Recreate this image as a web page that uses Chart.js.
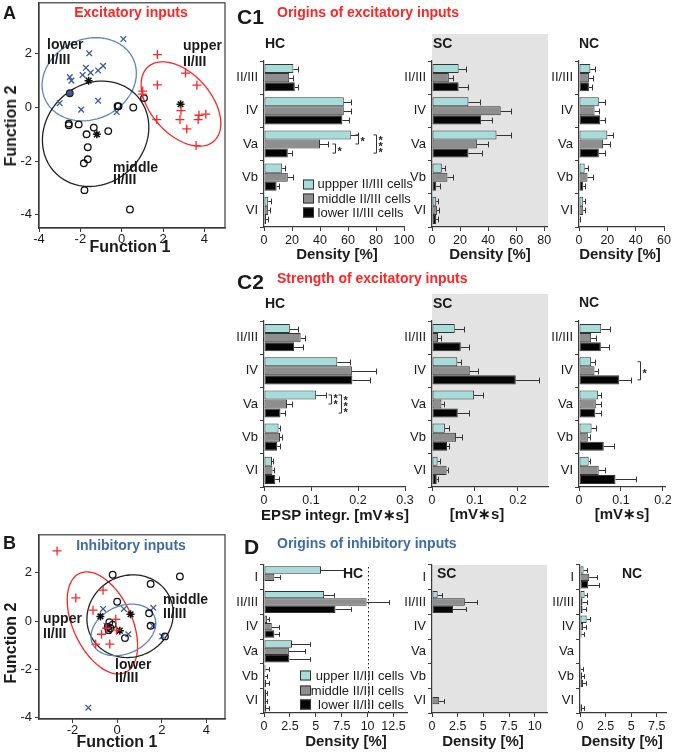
<!DOCTYPE html>
<html>
<head>
<meta charset="utf-8">
<script src="https://cdn.jsdelivr.net/npm/chart.js@4.4.1/dist/chart.umd.min.js"></script>
<style>
  body { margin: 0; background: #fff; }
  #fig { position: relative; width: 685px; height: 754px; overflow: hidden; font-family: "Liberation Sans", Arial, sans-serif; color: #1a1a1a; }
  #fig canvas { position: absolute; }
  .t { position: absolute; white-space: nowrap; line-height: 1; }
  .gray { position: absolute; background: #e3e3e3; }
  .sw { display: inline-block; width: 9px; height: 8px; border: 1px solid #333; vertical-align: middle; }
</style>
</head>
<body>
<div id="fig"></div>
<script>
// ---- categories ----
const layersExc = ['II/III', 'IV', 'Va', 'Vb', 'VI'];
const layersInh = ['I', 'II/III', 'IV', 'Va', 'Vb', 'VI'];

// ---- C1: origins of excitatory inputs, density [%] (mean, sem) ----
const c1HcUpper = [21, 57, 62, 13, 3];     const c1HcUpperSem = [3, 5, 5, 2, 2];
const c1HcMiddle = [18, 57, 40, 17, 3];    const c1HcMiddleSem = [3, 5, 6, 4, 1];
const c1HcLower = [22, 56, 17, 9, 1.5];    const c1HcLowerSem = [2, 5, 3, 2, 1.5];
const c1ScUpper = [19, 26, 46, 7, 3];      const c1ScUpperSem = [5, 8, 10, 2, 1];
const c1ScMiddle = [12, 49, 32, 11, 3.5];  const c1ScMiddleSem = [3, 7, 8, 4, 1.5];
const c1ScLower = [19, 35, 26, 3, 3];      const c1ScLowerSem = [7, 8, 10, 3, 1];
const c1NcUpper = [8, 14, 20, 4, 3];       const c1NcUpperSem = [3, 4, 4, 2, 1.5];
const c1NcMiddle = [7, 11, 17, 6, 3];      const c1NcMiddleSem = [3, 3, 5, 4, 1];
const c1NcLower = [7, 15, 14, 3, 0.5];     const c1NcLowerSem = [2, 3, 4, 1, 0.5];

// ---- C2: strength of excitatory inputs, EPSP integral [mV*s] ----
const c2HcUpper = [0.055, 0.156, 0.111, 0.031, 0.017];  const c2HcUpperSem = [0.018, 0.028, 0.02, 0.003, 0.002];
const c2HcMiddle = [0.078, 0.187, 0.049, 0.034, 0.018]; const c2HcMiddleSem = [0.01, 0.052, 0.01, 0.005, 0.003];
const c2HcLower = [0.064, 0.188, 0.035, 0.028, 0.024];  const c2HcLowerSem = [0.019, 0.038, 0.01, 0.006, 0.007];
const c2ScUpper = [0.053, 0.059, 0.098, 0.03, 0.013];   const c2ScUpperSem = [0.022, 0.009, 0.021, 0.009, 0.005];
const c2ScMiddle = [0.014, 0.088, 0.022, 0.056, 0.034]; const c2ScMiddleSem = [0.007, 0.02, 0.006, 0.013, 0.004];
const c2ScLower = [0.067, 0.195, 0.06, 0.035, 0.011];   const c2ScLowerSem = [0.019, 0.054, 0.026, 0.004, 0.003];
const c2NcUpper = [0.053, 0.029, 0.045, 0.03, 0.023];   const c2NcUpperSem = [0.02, 0.008, 0.007, 0.01, 0.003];
const c2NcMiddle = [0.029, 0.037, 0.04, 0.021, 0.047];  const c2NcMiddleSem = [0.012, 0.008, 0.012, 0.005, 0.015];
const c2NcLower = [0.052, 0.096, 0.039, 0.059, 0.087];  const c2NcLowerSem = [0.019, 0.029, 0.013, 0.024, 0.049];

// ---- D: origins of inhibitory inputs, density [%] ----
const dHcUpper = [5.5, 5.8, 0.3, 2.7, 0.15, 0.2];  const dHcUpperSem = [2.3, 1.0, 0.2, 1.7, 0.3, 0.1];
const dHcMiddle = [1.0, 9.9, 0.75, 2.4, 0.1, 0.2]; const dHcMiddleSem = [0.5, 2.2, 0.65, 1.6, 0.2, 0.1];
const dHcLower = [0, 6.9, 1.0, 2.45, 0.2, 0.2];    const dHcLowerSem = [0, 1.5, 0.4, 1.95, 0.25, 0.25];
const dScUpper = [0, 0.55, 0, 0, 0, 0];            const dScUpperSem = [0, 0.45, 0, 0, 0, 0];
const dScMiddle = [0, 3.2, 0, 0, 0, 0.7];          const dScMiddleSem = [0, 1.2, 0, 0, 0, 0.5];
const dScLower = [0, 2.05, 0, 0, 0, 0];            const dScLowerSem = [0, 1.25, 0, 0, 0, 0];
const dNcUpper = [0.35, 0.45, 0.65, 0, 0.1, 0];    const dNcUpperSem = [0.3, 0.25, 0.35, 0, 0.2, 0];
const dNcMiddle = [0.9, 0.25, 0.3, 0, 0.2, 0.05];  const dNcMiddleSem = [0.8, 0.4, 0.25, 0, 0.15, 0];
const dNcLower = [0.8, 0.25, 0.15, 0, 0.3, 0.2];   const dNcLowerSem = [1.1, 0.35, 0.25, 0, 0.25, 0.2];

// significance brackets: [category, series a, series b, x value, stars]
const c1HcSig = [[2, 0, 1, 67, '*'], [2, 1, 2, 51, '*'], [2, 0, 2, 80, '***']];
const c2HcSig = [[2, 0, 1, 0.142, '**'], [2, 0, 2, 0.164, '***']];
const c2NcSig = [[1, 0, 2, 0.145, '*']];

// axis ticks / ranges
const ticksC1Hc = [0, 20, 40, 60, 80, 100]; const ticksC1Sc = [0, 20, 40, 60, 80]; const ticksC1Nc = [0, 20, 40, 60];
const ticksC2Hc = [0, 0.1, 0.2, 0.3];       const ticksC2Sc = [0, 0.1, 0.2];        const ticksC2Nc = [0, 0.1, 0.2];
const ticksDHc = [0, 2.5, 5, 7.5, 10, 12.5]; const ticksDSc = [0, 2.5, 5, 7.5, 10]; const ticksDNc = [0, 2.5, 5, 7.5];

// ---- A: discriminant scores, excitatory inputs ----
const aUpperX = [1.73, 3.09, 1.73, 3.64, 1.02, 1.0, 2.87, 2.82, 1.7, 3.74, 3.7, 4.07, 3.15, 3.6];
const aUpperY = [1.97, 1.28, 0.84, 0.83, 0.61, 0.5, -0.12, -0.45, -0.45, -0.29, -0.45, -0.25, -0.8, -1.42];
const aMiddleX = [-0.2, -0.15, 0.56, 1.08, -2.56, -2.56, -2.08, -1.35, -1.7, -0.65, -1.64, -1.64, -1.83, -1.8, 0.4];
const aMiddleY = [0.05, 0.05, 0.0, 0.35, -0.6, -0.66, -0.63, -0.75, -1.0, -0.88, -1.48, -1.93, -2.08, -3.08, -3.8];
const aLowerX = [0.08, -1.57, -1.73, -1.5, -1.89, -2.51, -2.43, -1.14, -0.9, -1.14, -3.0, -1.96, -0.24];
const aLowerY = [2.55, 2.02, 1.48, 1.3, 1.21, 1.13, 1.0, 1.38, 1.55, 0.25, 0.16, -0.08, -0.17];
const aMixedX = [-2.51];
const aMixedY = [0.53];
const aCentX = [2.85, -1.6, -1.2];
const aCentY = [0.12, 1.0, -1.0];
// ellipses: [cx, cy, semi-axis a, semi-axis b, angle deg]
const aEllUpper = [2.87, 0.13, 2.15, 1.25, -33];
const aEllMiddle = [-1.26, -0.98, 2.6, 1.93, 12];
const aEllLower = [-1.57, 1.05, 2.3, 1.52, 10];
const aTicksX = [-4, -2, 0, 2, 4];
const aTicksY = [-4, -2, 0, 2];

// ---- B: discriminant scores, inhibitory inputs ----
const bUpperX = [-2.69, -1.85, -0.63, -1.08, -0.06, -0.7, -0.03, -0.33, -0.96, -0.48];
const bUpperY = [2.91, 0.96, 1.28, 0.45, 0.07, -0.55, -0.38, -0.96, -0.96, -0.3];
const bMiddleX = [-0.2, 1.5, 2.81, 0.0, 1.43, 1.5, 2.14, 0.35, -0.35, -0.42, -0.3, -0.38, -0.2];
const bMiddleY = [1.92, 1.54, 1.85, 0.8, 0.32, -0.2, -0.64, -0.71, -0.05, -0.25, -0.3, -0.38, -0.15];
const bLowerX = [-1.29, -0.63, 0.3, 1.62, 1.6, 2.02, 0.5, -0.48, -0.4];
const bLowerY = [-3.6, 0.5, 0.5, 0.55, -0.2, -0.64, -0.55, -0.2, -0.4];
const bCentX = [-0.75, 0.6, 0.12];
const bCentY = [0.19, 0.28, -0.4];
const bEllUpper = [-0.66, -0.08, 2.3, 1.3, -62];
const bEllMiddle = [0.58, 0.2, 1.95, 1.7, 15];
const bEllLower = [0.28, -0.37, 1.5, 1.0, 20];
const bTicksX = [-2, 0, 2, 4];
const bTicksY = [-4, -2, 0, 2];

// ---- styles ----
Chart.defaults.font.family = '"Liberation Sans", Arial, sans-serif';
Chart.defaults.color = '#1a1a1a';
const AXIS = '#3a3a3a';
const FILLS = ['#a6dcd9', '#8e8e8e', '#050505'];
const EDGE = '#333';
const RED = '#ff2525';
const BLUE = '#3b5ba6';
const fig = document.getElementById('fig');

function addText(html, x, y, css, anchor) {
  const d = document.createElement('div');
  d.className = 't';
  d.innerHTML = html;
  d.style.cssText += css || '';
  d.style.left = x + 'px';
  d.style.top = y + 'px';
  const tr = { l: 'translate(0,-50%)', c: 'translate(-50%,-50%)', r: 'translate(-100%,-50%)', v: 'translate(-50%,-50%) rotate(-90deg)' };
  d.style.transform = tr[anchor || 'l'];
  fig.appendChild(d);
  return d;
}

function addGray(x, y, w, h) {
  const d = document.createElement('div');
  d.className = 'gray';
  Object.assign(d.style, { left: x + 'px', top: y + 'px', width: w + 'px', height: h + 'px' });
  fig.appendChild(d);
}

function addCanvas(x, y, w, h) {
  const cv = document.createElement('canvas');
  cv.width = w; cv.height = h;
  cv.style.left = x + 'px'; cv.style.top = y + 'px';
  fig.appendChild(cv);
  return cv;
}

// error bars (mean + sem) on horizontal bars
const errorBars = {
  id: 'errorBars',
  afterDatasetsDraw(chart) {
    const ctx = chart.ctx, xs = chart.scales.x;
    ctx.save();
    ctx.strokeStyle = '#333';
    ctx.lineWidth = 1;
    chart.data.datasets.forEach((ds, i) => {
      chart.getDatasetMeta(i).data.forEach((bar, j) => {
        const s = ds.sem[j];
        if (!s) return;
        const x1 = Math.round(xs.getPixelForValue(ds.data[j] + s)) + 0.5;
        const y = Math.round(bar.y) + 0.5, half = bar.height * 0.32;
        ctx.beginPath();
        ctx.moveTo(bar.x, y); ctx.lineTo(x1, y);
        ctx.moveTo(x1, y - half); ctx.lineTo(x1, y + half);
        ctx.stroke();
      });
    });
    ctx.restore();
  }
};

function sigPlugin(marks) {
  return {
    id: 'sig',
    afterDatasetsDraw(chart) {
      const ctx = chart.ctx, xs = chart.scales.x;
      ctx.save();
      ctx.strokeStyle = '#333'; ctx.fillStyle = '#222'; ctx.lineWidth = 1;
      ctx.font = 'bold 11px "Liberation Sans", Arial, sans-serif';
      ctx.textAlign = 'left'; ctx.textBaseline = 'middle';
      marks.forEach(([cat, a, b, xv, label]) => {
        const ya = chart.getDatasetMeta(a).data[cat].y;
        const yb = chart.getDatasetMeta(b).data[cat].y;
        const px = Math.round(xs.getPixelForValue(xv)) + 0.5;
        ctx.beginPath();
        ctx.moveTo(px - 3, ya); ctx.lineTo(px, ya); ctx.lineTo(px, yb); ctx.lineTo(px - 3, yb);
        ctx.stroke();
        const mid = (ya + yb) / 2, n = label.length;
        for (let k = 0; k < n; k++) ctx.fillText('*', px + 2, mid + (k - (n - 1) / 2) * 6 + 3);
      });
      ctx.restore();
    }
  };
}

function refLinePlugin(xv) {
  return {
    id: 'refLine',
    afterDatasetsDraw(chart) {
      const ctx = chart.ctx, a = chart.chartArea;
      const px = Math.round(chart.scales.x.getPixelForValue(xv)) + 0.5;
      ctx.save();
      ctx.strokeStyle = '#222'; ctx.lineWidth = 1; ctx.setLineDash([1.5, 2.5]);
      ctx.beginPath(); ctx.moveTo(px, a.top + 2); ctx.lineTo(px, a.bottom); ctx.stroke();
      ctx.restore();
    }
  };
}

const PAD_L = 46, PAD_R = 16, PAD_T = 10, PAD_B = 22;

function barChart(x, y, w, h, cats, series, xMax, xTicks, extra, catPct) {
  const cv = addCanvas(x - PAD_L, y - PAD_T, w + PAD_L + PAD_R, h + PAD_T + PAD_B);
  new Chart(cv, {
    type: 'bar',
    data: {
      labels: cats,
      datasets: series.map(([vals, sem], i) => ({
        data: vals, sem: sem,
        backgroundColor: FILLS[i], borderColor: EDGE, borderWidth: 1, borderSkipped: false,
        categoryPercentage: catPct, barPercentage: 1
      }))
    },
    options: {
      indexAxis: 'y', responsive: false, animation: false, events: [],
      layout: { padding: { top: PAD_T, right: PAD_R, left: 0, bottom: 0 } },
      plugins: { legend: { display: false }, tooltip: { enabled: false } },
      scales: {
        x: {
          min: 0, max: xMax,
          afterBuildTicks: s => { s.ticks = xTicks.map(v => ({ value: v })); },
          afterFit: s => { s.height = PAD_B; },
          grid: { display: true, drawOnChartArea: false, tickLength: 4, color: AXIS },
          border: { color: AXIS, width: 1.2 },
          ticks: { font: { size: 12.5 }, color: '#1a1a1a', padding: 2, maxRotation: 0, callback: v => String(v) }
        },
        y: {
          afterFit: s => { s.width = PAD_L; },
          grid: { display: true, offset: true, drawOnChartArea: false, tickLength: 4, color: AXIS },
          border: { color: AXIS, width: 1.2 },
          ticks: { font: { size: 13 }, color: '#1a1a1a', padding: 2, autoSkip: false }
        }
      }
    },
    plugins: [errorBars].concat(extra || [])
  });
}

function ellipsePlugin(list) {
  return {
    id: 'ellipses',
    beforeDatasetsDraw(chart) {
      const ctx = chart.ctx, xs = chart.scales.x, ys = chart.scales.y;
      ctx.save();
      ctx.lineWidth = 1.3;
      list.forEach(([e, color]) => {
        const [cx, cy, a, b, deg] = e, r = deg * Math.PI / 180;
        ctx.strokeStyle = color;
        ctx.beginPath();
        for (let k = 0; k <= 120; k++) {
          const t = k / 120 * 2 * Math.PI;
          const dx = a * Math.cos(t) * Math.cos(r) - b * Math.sin(t) * Math.sin(r);
          const dy = a * Math.cos(t) * Math.sin(r) + b * Math.sin(t) * Math.cos(r);
          const px = xs.getPixelForValue(cx + dx), py = ys.getPixelForValue(cy + dy);
          if (k === 0) ctx.moveTo(px, py); else ctx.lineTo(px, py);
        }
        ctx.stroke();
      });
      ctx.restore();
    }
  };
}

const framePlugin = {
  id: 'frame',
  afterDraw(chart) {
    const a = chart.chartArea, ctx = chart.ctx;
    ctx.save();
    ctx.strokeStyle = AXIS; ctx.lineWidth = 1.2;
    ctx.strokeRect(a.left, a.top, a.right - a.left, a.bottom - a.top);
    ctx.restore();
  }
};

const pts = (xs, ys) => xs.map((v, i) => ({ x: v, y: ys[i] }));

function scatterChart(x, y, w, h, xr, yr, xt, yt, sets, ells) {
  const pl = 38, pr = 6, pt = 10, pb = 20;
  const cv = addCanvas(x - pl, y - pt, w + pl + pr, h + pt + pb);
  const style = {
    upper: { pointStyle: 'cross', pointRadius: 4.5, borderColor: RED, borderWidth: 1.3 },
    middle: { pointStyle: 'circle', pointRadius: 3.3, borderColor: '#111', backgroundColor: 'rgba(255,255,255,0)', borderWidth: 1.3 },
    lower: { pointStyle: 'crossRot', pointRadius: 4, borderColor: BLUE, borderWidth: 1.3 },
    mixed: { pointStyle: 'circle', pointRadius: 3.3, borderColor: '#222', backgroundColor: BLUE, borderWidth: 1.2 },
    cent: { pointStyle: 'star', pointRadius: 4, borderColor: '#111', borderWidth: 1.5 }
  };
  new Chart(cv, {
    type: 'scatter',
    data: { datasets: sets.map(([kind, data]) => Object.assign({ data: data }, style[kind])) },
    options: {
      responsive: false, animation: false, events: [],
      layout: { padding: { top: pt, right: pr, left: 0, bottom: 0 } },
      plugins: { legend: { display: false }, tooltip: { enabled: false } },
      scales: {
        x: {
          type: 'linear', min: xr[0], max: xr[1],
          afterBuildTicks: s => { s.ticks = xt.map(v => ({ value: v })); },
          afterFit: s => { s.height = pb; },
          grid: { display: true, drawOnChartArea: false, tickLength: 4, color: AXIS },
          border: { color: AXIS, width: 1.2 },
          ticks: { font: { size: 13 }, padding: 0, maxRotation: 0, callback: v => String(v) }
        },
        y: {
          type: 'linear', min: yr[0], max: yr[1],
          afterBuildTicks: s => { s.ticks = yt.map(v => ({ value: v })); },
          afterFit: s => { s.width = pl; },
          grid: { display: true, drawOnChartArea: false, tickLength: 4, color: AXIS },
          border: { color: AXIS, width: 1.2 },
          ticks: { font: { size: 13 }, padding: 3, callback: v => String(v) }
        }
      }
    },
    plugins: [ellipsePlugin(ells), framePlugin]
  });
}

// ---- panel A ----
scatterChart(39, 2, 186, 226, [-4, 5], [-4.49, 3.9], aTicksX, aTicksY, [
  ['upper', pts(aUpperX, aUpperY)],
  ['middle', pts(aMiddleX, aMiddleY)],
  ['lower', pts(aLowerX, aLowerY)],
  ['mixed', pts(aMixedX, aMixedY)],
  ['cent', pts(aCentX, aCentY)]
], [[aEllLower, '#5b86bd'], [aEllMiddle, '#222'], [aEllUpper, RED]]);
addText('A', 3, 13, 'font-weight:bold;font-size:18px;');
addText('Excitatory inputs', 131, 12, 'font-weight:bold;font-size:14px;color:' + RED + ';', 'c');
addText('lower', 47, 44, 'font-weight:bold;font-size:14px;');
addText('II/III', 47, 59, 'font-weight:bold;font-size:14px;');
addText('upper', 183, 45, 'font-weight:bold;font-size:14px;');
addText('II/III', 183, 61, 'font-weight:bold;font-size:14px;');
addText('middle', 113, 167, 'font-weight:bold;font-size:14px;');
addText('II/III', 113, 179, 'font-weight:bold;font-size:14px;');
addText('Function 2', 11, 126, 'font-weight:bold;font-size:16px;', 'v');
addText('Function 1', 130, 247, 'font-weight:bold;font-size:16px;', 'c');

// ---- panel B ----
scatterChart(39, 534, 186, 185, [-3.5, 4.83], [-4.07, 3.58], bTicksX, bTicksY, [
  ['upper', pts(bUpperX, bUpperY)],
  ['middle', pts(bMiddleX, bMiddleY)],
  ['lower', pts(bLowerX, bLowerY)],
  ['cent', pts(bCentX, bCentY)]
], [[bEllUpper, RED], [bEllMiddle, '#222'], [bEllLower, '#5b86bd']]);
addText('B', 3, 543, 'font-weight:bold;font-size:18px;');
addText('Inhibitory inputs', 131, 545, 'font-weight:bold;font-size:14px;color:#3d6ca8;', 'c');
addText('upper', 43, 618, 'font-weight:bold;font-size:14px;');
addText('II/III', 43, 633, 'font-weight:bold;font-size:14px;');
addText('middle', 163, 599, 'font-weight:bold;font-size:14px;');
addText('II/III', 163, 613, 'font-weight:bold;font-size:14px;');
addText('lower', 115, 664, 'font-weight:bold;font-size:14px;');
addText('II/III', 115, 677, 'font-weight:bold;font-size:14px;');
addText('Function 2', 11, 643, 'font-weight:bold;font-size:16px;', 'v');
addText('Function 1', 117, 742, 'font-weight:bold;font-size:16px;', 'c');

// ---- panel C1 ----
addGray(432, 34, 116, 193);
barChart(264, 61, 140, 166, layersExc, [[c1HcUpper, c1HcUpperSem], [c1HcMiddle, c1HcMiddleSem], [c1HcLower, c1HcLowerSem]], 100, ticksC1Hc, [sigPlugin(c1HcSig)], 0.82);
barChart(432, 61, 115, 166, layersExc, [[c1ScUpper, c1ScUpperSem], [c1ScMiddle, c1ScMiddleSem], [c1ScLower, c1ScLowerSem]], 82, ticksC1Sc, [], 0.82);
barChart(579, 61, 85, 166, layersExc, [[c1NcUpper, c1NcUpperSem], [c1NcMiddle, c1NcMiddleSem], [c1NcLower, c1NcLowerSem]], 60, ticksC1Nc, [], 0.82);
addText('C1', 237, 16, 'font-weight:bold;font-size:21px;');
addText('Origins of excitatory inputs', 277, 12, 'font-weight:bold;font-size:14px;color:' + RED + ';');
addText('HC', 265, 43, 'font-weight:bold;font-size:14px;');
addText('SC', 433, 43, 'font-weight:bold;font-size:14px;');
addText('NC', 579, 43, 'font-weight:bold;font-size:14px;');
['Density [%]', 'Density [%]', 'Density [%]'].forEach((s, i) => addText(s, [337, 490, 620][i], 253, 'font-weight:bold;font-size:15px;', 'c'));
['uppper II/III cells', 'middle II/III cells', 'lower II/III cells'].forEach((s, i) =>
  addText('<span class="sw" style="background:' + FILLS[i] + '"></span> ' + s, 303, [183, 197.5, 211.5][i], 'font-size:13px;'));

// ---- panel C2 ----
addGray(432, 294, 116, 193);
barChart(264, 321, 141, 166, layersExc, [[c2HcUpper, c2HcUpperSem], [c2HcMiddle, c2HcMiddleSem], [c2HcLower, c2HcLowerSem]], 0.3, ticksC2Hc, [sigPlugin(c2HcSig)], 0.82);
barChart(432, 321, 116, 166, layersExc, [[c2ScUpper, c2ScUpperSem], [c2ScMiddle, c2ScMiddleSem], [c2ScLower, c2ScLowerSem]], 0.27, ticksC2Sc, [], 0.82);
barChart(579, 321, 86, 166, layersExc, [[c2NcUpper, c2NcUpperSem], [c2NcMiddle, c2NcMiddleSem], [c2NcLower, c2NcLowerSem]], 0.205, ticksC2Nc, [sigPlugin(c2NcSig)], 0.82);
addText('C2', 237, 281, 'font-weight:bold;font-size:21px;');
addText('Strength of excitatory inputs', 277, 278, 'font-weight:bold;font-size:14px;color:' + RED + ';');
addText('HC', 265, 303, 'font-weight:bold;font-size:14px;');
addText('SC', 433, 303, 'font-weight:bold;font-size:14px;');
addText('NC', 579, 302, 'font-weight:bold;font-size:14px;');
addText('EPSP integr. [mV∗s]', 335, 514, 'font-weight:bold;font-size:15px;', 'c');
addText('[mV∗s]', 477, 513, 'font-weight:bold;font-size:15px;', 'c');
addText('[mV∗s]', 622, 513, 'font-weight:bold;font-size:15px;', 'c');

// ---- panel D ----
addGray(432, 565, 115, 148);
barChart(264, 565, 143, 148, layersInh, [[dHcUpper, dHcUpperSem], [dHcMiddle, dHcMiddleSem], [dHcLower, dHcLowerSem]], 13.8, ticksDHc, [refLinePlugin(10)], 0.9);
barChart(432, 565, 115, 148, layersInh, [[dScUpper, dScUpperSem], [dScMiddle, dScMiddleSem], [dScLower, dScLowerSem]], 11.2, ticksDSc, [], 0.9);
barChart(580, 565, 86, 148, layersInh, [[dNcUpper, dNcUpperSem], [dNcMiddle, dNcMiddleSem], [dNcLower, dNcLowerSem]], 8.4, ticksDNc, [], 0.9);
addText('D', 244, 546, 'font-weight:bold;font-size:21px;');
addText('Origins of inhibitory inputs', 277, 543, 'font-weight:bold;font-size:14px;color:#3d6ca8;');
addText('HC', 343, 573, 'font-weight:bold;font-size:14px;');
addText('SC', 437, 573, 'font-weight:bold;font-size:14px;');
addText('NC', 622, 573, 'font-weight:bold;font-size:14px;');
['Density [%]', 'Density [%]', 'Density [%]'].forEach((s, i) => addText(s, [346, 483, 622][i], 740, 'font-weight:bold;font-size:15px;', 'c'));
['upper II/III cells', 'middle II/III cells', 'lower II/III cells'].forEach((s, i) => {
  addText('<span class="sw" style="background:' + FILLS[i] + '"></span><span>' + s + '</span>', 300, [675, 690, 704][i], 'font-size:13px;width:104px;display:flex;justify-content:space-between;align-items:center;');
});
</script>
</body>
</html>
